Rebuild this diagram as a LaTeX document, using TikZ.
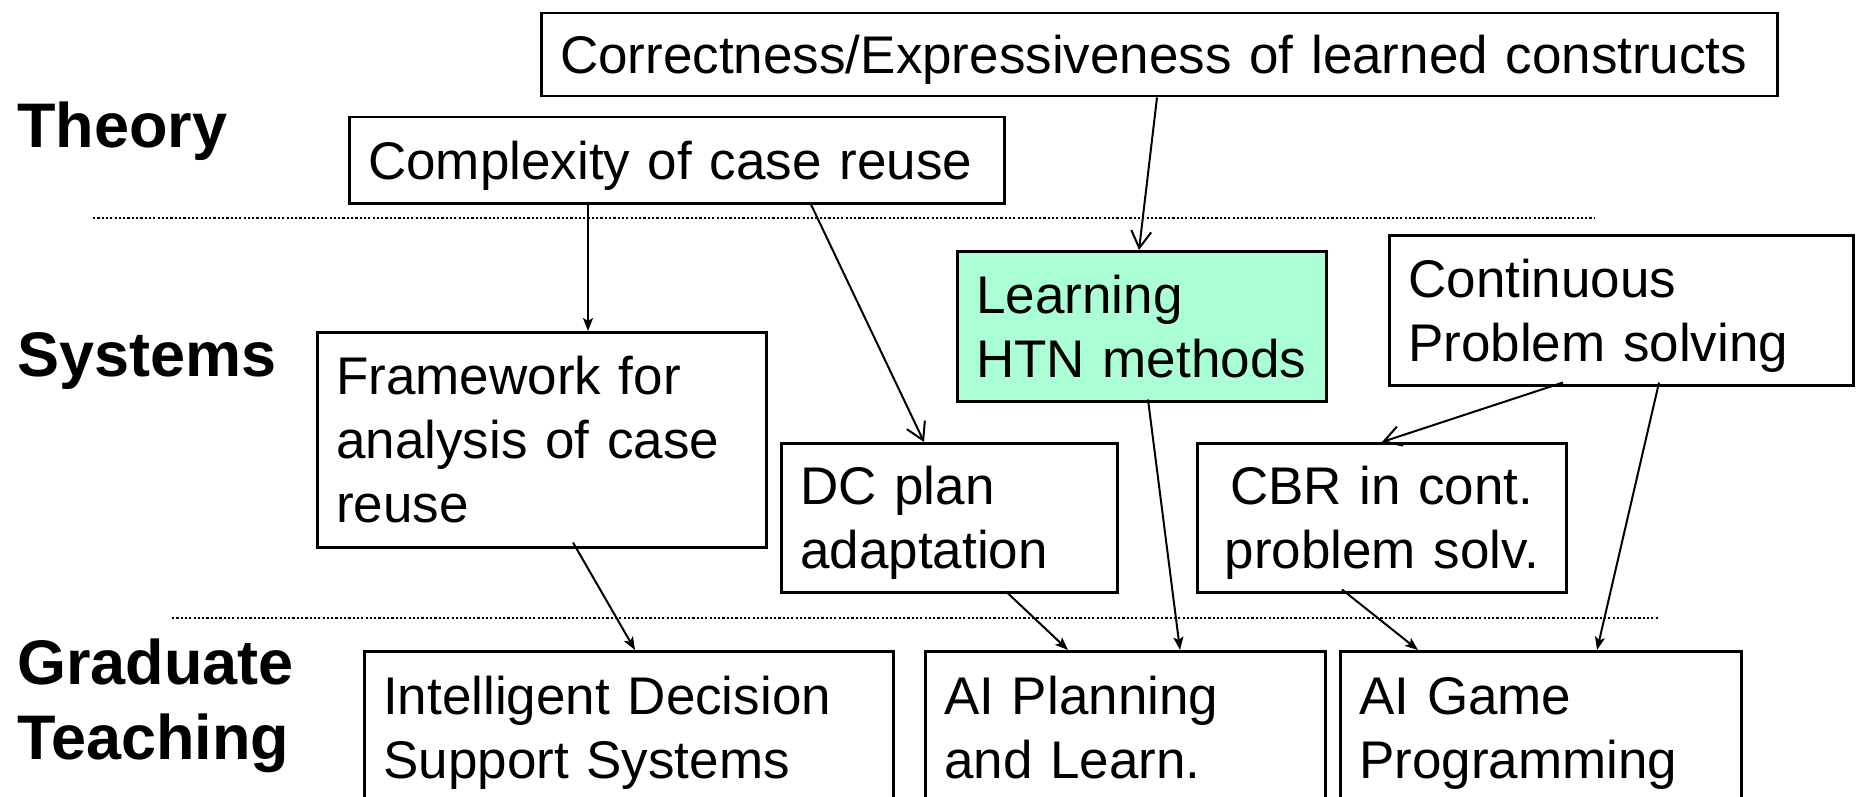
\documentclass[tikz,border=0pt]{standalone}
\usepackage{fontspec}
\setmainfont{Liberation Sans}
\usetikzlibrary{arrows.meta,calc}
\newcommand\boxtextfont{\fontsize{53}{64}\selectfont}
\newcommand\rowfont{\fontsize{63}{75}\selectfont\bfseries}
\definecolor{mint}{RGB}{170,255,212}
\tikzset{
  topic/.style n args={2}{draw, line width=2.5pt, anchor=north west,
    inner xsep=19pt, inner ysep=0pt, align=left, font=\boxtextfont,
    minimum width=#1pt, minimum height=#2pt, text width=#1pt-38pt,
    execute at begin node={\rule{0pt}{52pt}},
    execute at end node={\rule[-14pt]{0pt}{14pt}}},
  rowlabel/.style={anchor=west, inner sep=0pt, align=left, font=\rowfont},
  separator/.style={line width=2.5pt, dash pattern=on 2.2pt off 2.1pt},
  link/.style={line width=2pt, -{Stealth[length=13pt,width=10pt,inset=3pt]}},
  openlink/.style={line width=2pt, -{Straight Barb[length=17pt,width=20pt,line width=2pt]}}
}
\begin{document}
\begin{tikzpicture}[x=1pt,y=-1pt]
\useasboundingbox (0,0) rectangle (1860,797);
\begin{scope}
\clip (0,0) rectangle (1860,797);

% row labels
\node[rowlabel] (theory) at (17,131) {Theory};
\node[rowlabel] (systems) at (17,361) {Systems};
\node[rowlabel] (teaching) at (17,706) {Graduate\\Teaching};

% separators between the rows
\coordinate (s1a) at (93,218);
\coordinate (s1b) at (1595,218);
\coordinate (s2a) at (172,618);
\coordinate (s2b) at (1658,618);
\draw[separator] (s1a) -- (s1b);
\draw[separator] (s2a) -- (s2b);

% theory
\node[topic={1236}{83}] (corr) at (540,12) {Correctness/Expressiveness of learned constructs};
\node[topic={655}{86}] (cx) at (348,116) {Complexity of case reuse};

% systems
\node[topic={369}{150}, fill=mint] (htn) at (956,250) {Learning\\HTN methods};
\node[topic={464}{150}] (cont) at (1388,234) {Continuous\\Problem solving};
\node[topic={449}{215}] (fw) at (316,331) {Framework for\\analysis of case\\reuse};
\node[topic={336}{149}] (dc) at (780,442) {DC plan\\adaptation};
\node[topic={369}{149}, align=center] (cbr) at (1196,442) {CBR in cont.\\problem solv.};

% graduate teaching
\node[topic={529}{153}] (idss) at (363,650) {Intelligent Decision\\Support Systems};
\node[topic={400}{153}] (aip) at (924,650) {AI Planning\\and Learn.};
\node[topic={401}{153}] (aig) at (1339,650) {AI Game\\Programming};

% dependencies
\draw[link] ($(cx.south west)+(240,0)$) -- ($(fw.north west)+(272,0)$);
\draw[openlink] ($(cx.south west)+(463,0)$) -- ($(dc.north west)+(144,0)$);
\draw[openlink] ($(corr.south west)+(617,0)$) -- ($(htn.north west)+(183,0)$);
\draw[openlink] ($(cont.south west)+(175,-4)$) -- ($(cbr.north west)+(186,0)$);
\draw[link] ($(cont.south west)+(271,-4)$) -- ($(aig.north west)+(258,0)$);
\draw[link] ($(fw.south west)+(257,-6)$) -- ($(idss.north west)+(272,0)$);
\draw[link] ($(dc.south west)+(226,-2)$) -- ($(aip.north west)+(144,0)$);
\draw[link] ($(htn.south west)+(192,-3)$) -- ($(aip.north west)+(256,0)$);
\draw[link] ($(cbr.south west)+(146,-4)$) -- ($(aig.north west)+(79,0)$);
\end{scope}
\end{tikzpicture}
\end{document}
